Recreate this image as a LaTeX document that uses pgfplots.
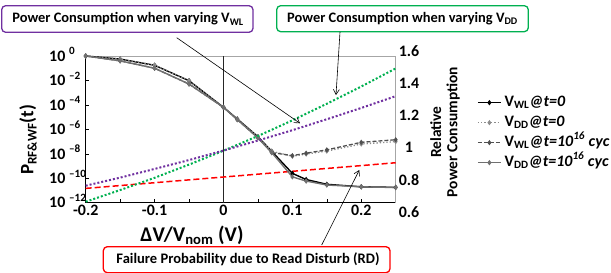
\documentclass[border=0pt]{standalone}
\usepackage{fontspec}
\setmainfont{Carlito}
\usepackage{pgfplots}
\pgfplotsset{compat=1.18}
\usetikzlibrary{arrows.meta}
\definecolor{cpurple}{HTML}{7030A0}
\definecolor{cgreen}{HTML}{00B050}
\definecolor{cred}{HTML}{FF0000}
\definecolor{cdark}{HTML}{505050}
\definecolor{cmid}{HTML}{707070}
\definecolor{clight}{HTML}{8C8C8C}
\newcommand{\tl}{\fontsize{16}{16}\selectfont\bfseries}
\newcommand{\tp}[1]{10\textsuperscript{\,\,#1}}
\begin{document}
\begin{tikzpicture}
\useasboundingbox (0bp,0bp) rectangle (611bp,273bp);
\begin{axis}[
  at={(85.7bp,70.3bp)}, anchor=south west,
  scale only axis, width=310bp, height=146.7bp,
  xmin=-0.2, xmax=0.25, ymode=log, ymin=1e-12, ymax=1,
  axis x line*=bottom, axis y line*=left,
  axis line style={-, black, line width=1.3bp},
  tick align=inside, major tick length=3.5bp, minor tick length=3.5bp,
  tick style={black, line width=0.6bp},
  xtick={-0.2,-0.1,0,0.1,0.2},
  xticklabels={-0.2,-0.1,0,0.1,0.2},
  minor xtick={-0.15,-0.05,0.05,0.15,0.25},
  ytick={1e-12,1e-10,1e-8,1e-6,1e-4,1e-2,1},
  yticklabels={\tp{–12},\tp{–10},\tp{–8},\tp{–6},\tp{–4},\tp{–2},\tp{0}},
  yminorticks=false,
  ticklabel style={font=\tl},
  yticklabel style={anchor=west, xshift=-40bp, yshift=1.5bp, inner ysep=1bp},
  xticklabel style={yshift=-1bp, inner ysep=1bp},
  clip=false,
  legend style={at={(1.2526,0.748)}, anchor=north west, draw=none, fill=none,
    font=\fontsize{16}{16}\selectfont\bfseries,
    nodes={inner sep=0pt, text height=11bp, text depth=4bp},
    row sep=5bp},
  legend cell align=left,
  legend image code/.code={\draw[mark repeat=2,mark phase=2,#1] plot coordinates {(0bp,0bp) (11.5bp,0bp) (23bp,0bp)}; \path (26bp,0bp);},
]
\draw[gray!70, line width=0.8bp] (rel axis cs:0,1) -- (rel axis cs:1,1) -- (rel axis cs:1,0);
\draw[black!85, line width=0.9bp] (axis cs:0,1e-12) -- (axis cs:0,1);
\addplot[cred, dashed, dash pattern=on 6bp off 3bp, line width=1.5bp, forget plot] coordinates {
(-0.2,1.48e-11) (0,1.26e-10) (0.25,1.86e-9)};
\addplot[black, line width=1.4bp, mark=diamond*, mark size=1.6bp] coordinates {
(-0.2,1) (-0.15,0.56) (-0.1,0.174) (-0.05,9.5e-3) (0,6.3e-5) (0.02,7.1e-6) (0.05,2.5e-7) (0.07,1.6e-8) (0.1,2.5e-10) (0.12,7.9e-11) (0.15,3.2e-11) (0.2,2.0e-11) (0.25,1.8e-11)};
\addlegendentry{V\textsubscript{WL}\textit{@t=0}}
\addplot[clight, dotted, line width=1.3bp, mark=diamond*, mark size=1.6bp, mark options={solid}] coordinates {
(-0.2,1) (-0.15,0.56) (-0.1,0.174) (-0.05,9.5e-3) (0,6.3e-5) (0.02,7.1e-6) (0.05,2.5e-7) (0.07,1.6e-8) (0.1,6.3e-9) (0.12,9.5e-9) (0.15,1.66e-8) (0.2,6.3e-8) (0.25,1.0e-7)};
\addlegendentry{V\textsubscript{DD}\textit{@t=0}}
\addplot[cdark, dashed, dash pattern=on 4bp off 2bp, line width=1.3bp, mark=diamond*, mark size=1.6bp, mark options={solid}] coordinates {
(-0.2,1) (-0.15,0.40) (-0.1,0.10) (-0.05,5.1e-3) (0,6.3e-5) (0.02,6.3e-6) (0.05,2.0e-7) (0.07,1.26e-8) (0.1,7.1e-9) (0.12,1.12e-8) (0.15,2.1e-8) (0.2,8.7e-8) (0.25,1.41e-7)};
\addlegendentry{V\textsubscript{WL}\textit{@t=10\textsuperscript{16} cyc}}
\addplot[cmid, line width=1.4bp, mark=diamond*, mark size=1.6bp] coordinates {
(-0.2,1) (-0.15,0.40) (-0.1,0.10) (-0.05,5.1e-3) (0,6.3e-5) (0.02,6.3e-6) (0.05,2.0e-7) (0.07,1.26e-8) (0.1,1.3e-10) (0.12,5.9e-11) (0.15,2.8e-11) (0.2,2.0e-11) (0.25,1.74e-11)};
\addlegendentry{V\textsubscript{DD}\textit{@t=10\textsuperscript{16} cyc}}
\end{axis}
\begin{axis}[
  at={(85.7bp,61bp)}, anchor=south west,
  scale only axis, width=310bp, height=161.3bp,
  xmin=-0.2, xmax=0.25, ymin=0.6, ymax=1.6,
  axis x line=none, axis y line*=right,
  y axis line style={draw=none},
  major tick length=0pt,
  ytick={0.6,0.8,1,1.2,1.4,1.6},
  yticklabels={0.6,0.8,1,1.2,1.4,1.6},
  ticklabel style={font=\tl},
  yticklabel style={anchor=center, xshift=13.3bp},
  clip=false,
]
\addplot[cgreen, dotted, line width=2bp] coordinates {
(-0.2,0.664) (-0.15,0.736) (-0.1,0.812) (-0.05,0.894) (0,0.980) (0.05,1.071) (0.1,1.168) (0.15,1.271) (0.2,1.378) (0.25,1.490)};
\addplot[cpurple, dotted, line width=2bp] coordinates {
(-0.2,0.763) (-0.15,0.813) (-0.1,0.867) (-0.05,0.922) (0,0.981) (0.05,1.043) (0.1,1.107) (0.15,1.175) (0.2,1.245) (0.25,1.318)};
\end{axis}
% axis titles
\node[rotate=90, anchor=base, font=\fontsize{19}{19}\selectfont\bfseries] at (33.3bp,133.3bp) {P\textsubscript{RF\&WF}(t)};
\node[anchor=base, font=\fontsize{21}{21}\selectfont\bfseries] at (192bp,31.3bp) {ΔV/V\textsubscript{nom} (V)};
\node[rotate=90, align=center, font=\fontsize{15.5}{16.5}\selectfont\bfseries] at (445bp,141bp) {Relative\\Power Consumption};
% annotation boxes
\draw[cpurple, line width=1.3bp, rounded corners=4bp] (1.7bp,240.7bp) rectangle (253bp,267.3bp);
\node[font=\fontsize{14.5}{14.5}\selectfont\bfseries] at (128bp,254bp) {Power Consumption when varying V\textsubscript{WL}};
\draw[cgreen, line width=1.3bp, rounded corners=4bp] (276.7bp,241.3bp) rectangle (528.3bp,267.3bp);
\node[font=\fontsize{14.5}{14.5}\selectfont\bfseries] at (402.5bp,254.3bp) {Power Consumption when varying V\textsubscript{DD}};
\draw[cred, line width=1.3bp, rounded corners=4bp] (103.3bp,0.3bp) rectangle (390bp,26.3bp);
\node[font=\fontsize{14.6}{14.6}\selectfont\bfseries] at (248bp,13.3bp) {Failure Probability due to Read Disturb (RD)};
% arrows
\draw[black, line width=0.6bp, -{Straight Barb[length=5bp,width=6bp]}] (176.7bp,235.3bp) -- (300bp,149.7bp);
\draw[black, line width=0.6bp, -{Straight Barb[length=5bp,width=6bp]}] (340bp,241bp) -- (336bp,178bp);
\draw[black, line width=0.6bp, -{Straight Barb[length=5bp,width=6bp]}] (321.7bp,28bp) -- (359.3bp,103bp);
\end{tikzpicture}
\end{document}
